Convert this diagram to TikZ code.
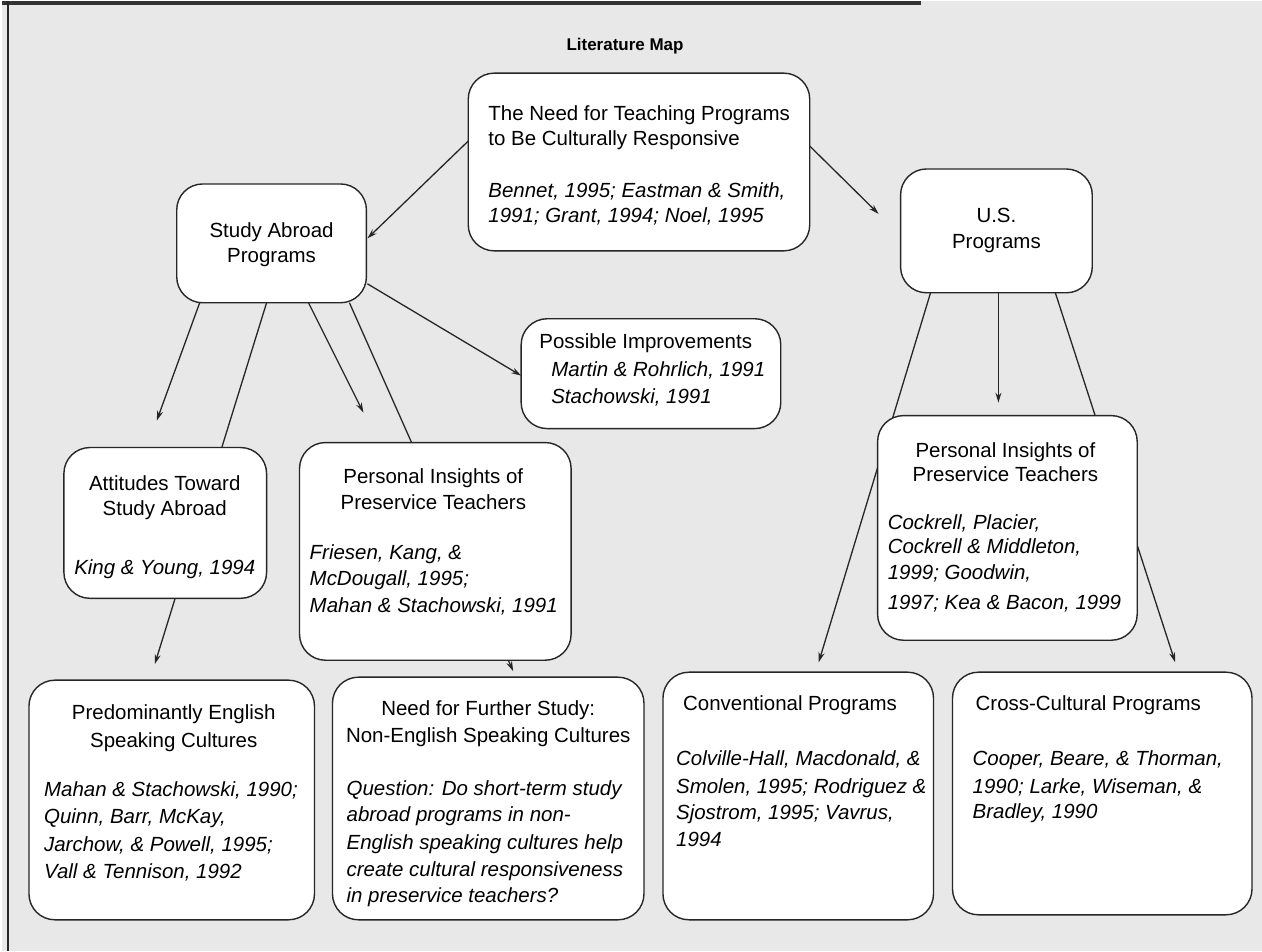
\documentclass[tikz,border=0pt]{standalone}
\usepackage{fontspec}
\setmainfont{Liberation Sans}
\usetikzlibrary{arrows.meta,calc}
\pgfdeclarelayer{back}
\pgfdeclarelayer{links}
\pgfsetlayers{back,links,main}
\begin{document}
\begin{tikzpicture}[x=1pt,y=-1pt,
  box/.style={draw=black!85, line width=1.4pt, rounded corners=26pt, fill=white, inner sep=0pt, outer sep=0pt},
  tt/.style={inner sep=0pt, font=\fontsize{20.5}{25}\selectfont},
  it/.style={inner sep=0pt, font=\fontsize{20.5}{25}\selectfont\itshape},
  lnk/.style={draw=black!85, line width=1.3pt},
  arr/.style={lnk, -{Stealth[length=10pt,width=6pt]}},
]
% background
\begin{pgfonlayer}{back}
\fill[gray!18] (0,0) rectangle (1262,951);
\draw[black!80, line width=4pt] (0,2) -- (920,2);
\draw[black!85, line width=2.5pt] (6,0) -- (6,951);
\end{pgfonlayer}
\useasboundingbox (0,0) rectangle (1262,951);

% title
\node[inner sep=0pt, font=\fontsize{17}{20}\selectfont\bfseries] (title) at (624,45) {Literature Map};

% boxes
\node[box, minimum width=342pt, minimum height=178pt] (need) at (638,161) {};
\node[box, minimum width=190pt, minimum height=119pt] (sa) at (270,242.5) {};
\node[box, minimum width=192pt, minimum height=124pt] (us) at (996,230) {};
\node[box, minimum width=260pt, minimum height=110pt] (pimp) at (650,373) {};
\node[box, minimum width=203pt, minimum height=151pt] (att) at (163.5,522.5) {};
\node[box, minimum width=272pt, minimum height=218pt] (pil) at (434,551) {};
\node[box, minimum width=260pt, minimum height=225pt] (pir) at (1007,527.5) {};
\node[box, minimum width=286pt, minimum height=240pt] (pred) at (170,800) {};
\node[box, minimum width=312pt, minimum height=243pt] (nf) at (487,798.5) {};
\node[box, minimum width=271pt, minimum height=248pt] (conv) at (797.5,796) {};
\node[box, minimum width=300pt, minimum height=243pt] (cross) at (1102,793.5) {};

% texts: need
\node[tt, anchor=base west] (need1) at (487,119) {The Need for Teaching Programs};
\node[tt, anchor=base west] (need2) at (487,144) {to Be Culturally Responsive};
\node[it, anchor=base west] (need3) at (487,197) {Bennet, 1995; Eastman \& Smith,};
\node[it, anchor=base west] (need4) at (487,222) {1991; Grant, 1994; Noel, 1995};
% study abroad
\node[tt, anchor=base] (sa1) at (270,237) {Study Abroad};
\node[tt, anchor=base] (sa2) at (270,262) {Programs};
% us
\node[tt, anchor=base] (us1) at (996,222) {U.S.};
\node[tt, anchor=base] (us2) at (996,248) {Programs};
% possible improvements
\node[tt, anchor=base west] (pimp1) at (538,348) {Possible Improvements};
\node[it, anchor=base west] (pimp2) at (550,376) {Martin \& Rohrlich, 1991};
\node[it, anchor=base west] (pimp3) at (550,403) {Stachowski, 1991};
% attitudes
\node[tt, anchor=base] (att1) at (163,490) {Attitudes Toward};
\node[tt, anchor=base] (att2) at (163,515) {Study Abroad};
\node[it, anchor=base] (att3) at (163,574) {King \& Young, 1994};
% personal insights left
\node[tt, anchor=base] (pil1) at (432,483) {Personal Insights of};
\node[tt, anchor=base] (pil2) at (432,509) {Preservice Teachers};
\node[it, anchor=base west] (pil3) at (308,559) {Friesen, Kang, \&};
\node[it, anchor=base west] (pil4) at (308,585) {McDougall, 1995;};
\node[it, anchor=base west] (pil5) at (308,612) {Mahan \& Stachowski, 1991};
% personal insights right
\node[tt, anchor=base] (pir1) at (1005,457) {Personal Insights of};
\node[tt, anchor=base] (pir2) at (1005,481) {Preservice Teachers};
\node[it, anchor=base west] (pir3) at (887,529) {Cockrell, Placier,};
\node[it, anchor=base west] (pir4) at (887,553) {Cockrell \& Middleton,};
\node[it, anchor=base west] (pir5) at (887,579) {1999; Goodwin,};
\node[it, anchor=base west] (pir6) at (887,609) {1997; Kea \& Bacon, 1999};
% predominantly english
\node[tt, anchor=base] (pred1) at (172,719) {Predominantly English};
\node[tt, anchor=base] (pred2) at (172,747) {Speaking Cultures};
\node[it, anchor=base west] (pred3) at (42,797) {Mahan \& Stachowski, 1990;};
\node[it, anchor=base west] (pred4) at (42,824) {Quinn, Barr, McKay,};
\node[it, anchor=base west] (pred5) at (42,852) {Jarchow, \& Powell, 1995;};
\node[it, anchor=base west] (pred6) at (42,879) {Vall \& Tennison, 1992};
% need for further study
\node[tt, anchor=base] (nf1) at (487,715) {Need for Further Study:};
\node[tt, anchor=base] (nf2) at (487,742) {Non-English Speaking Cultures};
\node[it, anchor=base west] (nf3) at (345,795) {Question: Do short-term study};
\node[it, anchor=base west] (nf4) at (345,822) {abroad programs in non-};
\node[it, anchor=base west] (nf5) at (345,850) {English speaking cultures help};
\node[it, anchor=base west] (nf6) at (345,877) {create cultural responsiveness};
\node[it, anchor=base west] (nf7) at (345,903) {in preservice teachers?};
% conventional
\node[tt, anchor=base west] (conv1) at (682,710) {Conventional Programs};
\node[it, anchor=base west] (conv2) at (675,765) {Colville-Hall, Macdonald, \&};
\node[it, anchor=base west] (conv3) at (675,793) {Smolen, 1995; Rodriguez \&};
\node[it, anchor=base west] (conv4) at (675,820) {Sjostrom, 1995; Vavrus,};
\node[it, anchor=base west] (conv5) at (675,847) {1994};
% cross-cultural
\node[tt, anchor=base west] (cross1) at (975,710) {Cross-Cultural Programs};
\node[it, anchor=base west] (cross2) at (972,765) {Cooper, Beare, \& Thorman,};
\node[it, anchor=base west] (cross3) at (972,793) {1990; Larke, Wiseman, \&};
\node[it, anchor=base west] (cross4) at (972,819) {Bradley, 1990};

% free arrow ends
\coordinate (tus) at (878,213);
\coordinate (tatt) at (155,420);
\coordinate (tpil) at (362,412);
\coordinate (tpred) at (153,664);
\coordinate (tnf) at (512,671);
\coordinate (tpir) at (998,402);
\coordinate (tconv) at (818,662);
\coordinate (tcross) at (1175,662);

% connectors
\begin{pgfonlayer}{links}
\draw[arr] ($(need.west)+(0,-21)$) -- ($(sa.east)+(1,-5)$);
\draw[arr] ($(need.east)+(0,-16)$) -- (tus);
\draw[arr] ($(sa.south east)+(1,-19)$) -- ($(pimp.west)+(0,2)$);
\draw[arr] ($(sa.south west)+(23,0)$) -- (tatt);
\draw[arr] ($(sa.south west)+(90,0)$) -- (tpred);
\draw[arr] ($(sa.south west)+(132,0)$) -- (tpil);
\draw[arr] ($(sa.south west)+(173,0)$) -- (tnf);
\draw[arr] ($(us.south west)+(30,0)$) -- (tconv);
\draw[arr] ($(us.south)+(2,0)$) -- (tpir);
\draw[arr] ($(us.south west)+(155,0)$) -- (tcross);
\end{pgfonlayer}
\end{tikzpicture}
\end{document}
